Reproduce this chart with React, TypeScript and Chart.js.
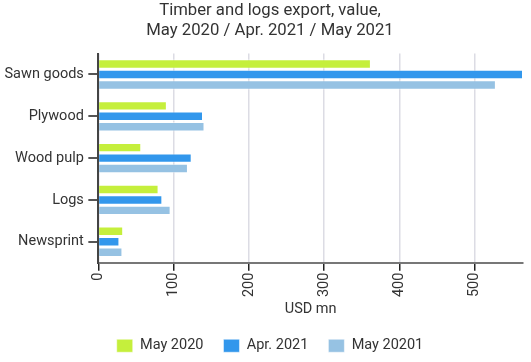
import React, { useEffect, useRef } from "react";
import { Chart, registerables } from "chart.js";

Chart.register(...registerables);

const categories = ["Sawn goods", "Plywood", "Wood pulp", "Logs", "Newsprint"];
const seriesLabels = ["May 2020", "Apr. 2021", "May 20201"];
const may2020 = [362, 91, 57, 80, 33];
const apr2021 = [564, 139, 124, 85, 28];
const may2021 = [528, 141, 119, 96, 32];
const colors = ["#c5ef3c", "#3297ec", "#96c2e3"];
const xMax = 564;

const shiftPlugin = {
  id: "shiftBlocks",
  afterLayout(chart: any) {
    const dx = 8.5;
    for (const b of [chart.titleBlock, chart.legend]) {
      if (b) {
        b.left += dx;
        b.right += dx;
      }
    }
  },
};

export default function App() {
  const ref = useRef<HTMLCanvasElement | null>(null);
  useEffect(() => {
    if (!ref.current) return;
    const font = "Roboto, 'Noto Sans', sans-serif";
    const values = [may2020, apr2021, may2021];
    const chart = new Chart(ref.current, {
      type: "bar",
      data: {
        labels: categories,
        datasets: seriesLabels.map((l, i) => ({
          label: l,
          data: values[i],
          backgroundColor: colors[i],
          borderColor: "rgba(255,255,255,0.5)",
          borderWidth: 1,
          barPercentage: 0.9,
          categoryPercentage: 0.75,
        })),
      },
      plugins: [shiftPlugin],
      options: {
        indexAxis: "y",
        animation: false,
        responsive: false,
        maintainAspectRatio: false,
        layout: { padding: { top: 1, right: 8, bottom: -1, left: 0 } },
        plugins: {
          title: {
            display: true,
            text: ["Timber and logs export, value,", "May 2020 / Apr. 2021 / May 2021"],
            color: "#333",
            font: { family: font, size: 16.7, weight: "normal", lineHeight: 1.2 },
            padding: { top: 0, bottom: 12.5 },
          },
          legend: {
            position: "bottom",
            labels: {
              color: "#333",
              font: { family: font, size: 14.5 },
              boxWidth: 16,
              boxHeight: 13,
              padding: 20,
            },
          },
          tooltip: { enabled: false },
        },
        scales: {
          x: {
            min: 0,
            max: xMax,
            ticks: {
              stepSize: 100,
              includeBounds: false,
              minRotation: 90,
              maxRotation: 90,
              color: "#333",
              font: { family: font, size: 14.5 },
              padding: 2,
            },
            grid: {
              color: "#dcdce4",
              lineWidth: 1.5,
              tickColor: "#222",
              tickLength: 8,
            },
            border: { color: "#777", width: 2 },
            title: {
              display: true,
              text: "USD mn",
              color: "#333",
              font: { family: font, size: 14.5 },
              padding: { top: 2, bottom: 0 },
            },
          },
          y: {
            ticks: {
              color: "#333",
              font: { family: font, size: 14.5 },
              padding: 4.5,
            },
            grid: {
              offset: false,
              drawOnChartArea: false,
              tickColor: "#555",
              tickLength: 10,
              lineWidth: 2,
            },
            border: { color: "#444", width: 2 },
          },
        },
      },
    });
    return () => chart.destroy();
  }, []);
  return (
    <div style={{ position: "fixed", left: 0, top: 0, width: 531, height: 362, background: "#fff" }}>
      <canvas ref={ref} width={531} height={362} style={{ width: 531, height: 362 }} />
    </div>
  );
}
